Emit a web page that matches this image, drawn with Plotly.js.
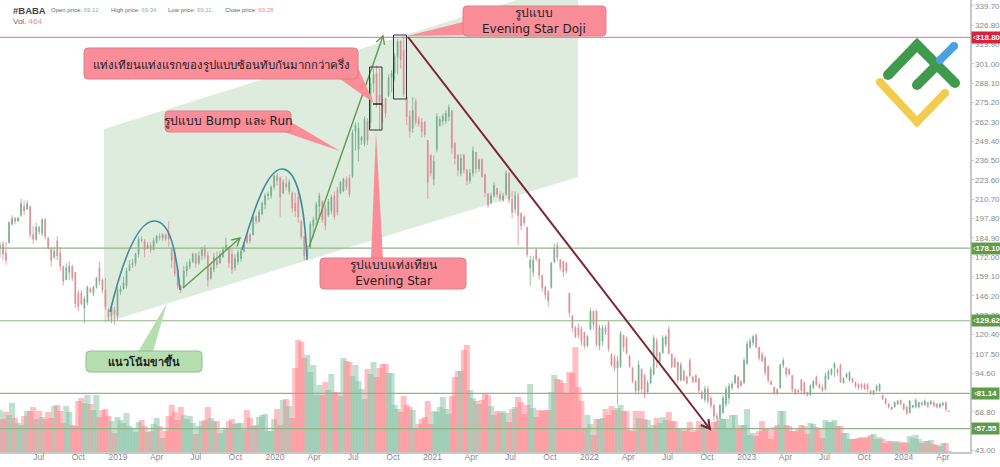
<!DOCTYPE html>
<html>
<head>
<meta charset="utf-8">
<script src="https://cdn.plot.ly/plotly-3.0.1.min.js"></script>
<style>
  html, body { margin: 0; padding: 0; background: #fff; }
  #chart { width: 1000px; height: 467px; }
</style>
</head>
<body>
<div id="chart"></div>
<script>
// weekly BABA candles, first week 2018-04-02
const firstWeek = '2018-04-02';

const openPrice = [
  178,181,175,182,194,198,196,200,206,204,
  206,187,184,192,188,197,185,178,172,183,
  175,166,157,162,166,162,148,148,138,142,
  151,148,152,165,157,150,137,133,137,133,
  149,151,153,163,167,168,174,184,183,178,
  180,177,182,186,185,187,188,178,175,164,
  153,152,163,166,169,174,168,173,178,173,
  158,164,170,168,172,177,178,174,165,169,
  171,176,187,187,187,199,196,201,207,213,
  213,219,226,225,215,221,216,215,208,212,
  196,186,173,179,193,197,206,209,205,200,
  203,213,217,215,216,224,225,226,256,244,
  250,248,263,262,288,295,280,274,278,280,
  292,295,306,316,310,279,266,258,276,264,
  262,262,250,240,224,244,260,263,263,266,
  270,248,240,228,240,230,223,228,242,231,
  237,227,214,208,213,218,214,210,214,228,
  211,204,213,201,199,192,165,162,177,171,
  160,152,149,152,169,180,170,169,168,148,
  133,125,125,124,122,113,124,136,136,113,
  116,125,129,107,105,98,99,120,118,106,
  98,89,83,97,93,82,88,94,116,102,
  108,114,124,107,104,102,90,96,92,103,
  92,93,91,82,77,84,78,73,66,65,
  68,74,78,85,88,92,89,88,101,112,
  115,120,112,107,105,99,89,85,84,85,
  100,98,97,93,84,83,90,88,82,80,
  85,92,87,85,84,91,94,98,97,100,
  88,92,90,91,88.5,87,87,87,87,83,
  80.5,83,83,80,77.5,74,72,72,74,76.5,
  74,72,68,72,72,72,75,73.5,75,74,
  75,74,72,73.5,75,69.12
];
const highPrice = [
  182,183,182,196,200,199,199,211,210,210,
  206,193,195,193,198,198,185,179,179,186,
  179,166,168,169,167,162,150,150,146,153,
  152,153,159,169,158,158,138,141,139,152,
  153,159,165,170,171,175,186,186,184,182,
  182,185,187,188,188,188,196,178,178,166,
  153,166,169,171,175,175,176,179,180,176,
  167,175,176,176,179,185,178,178,174,177,
  178,182,188,188,200,200,204,209,215,216,
  220,227,228,226,224,226,224,216,215,215,
  197,186,180,196,199,209,215,210,207,211,
  214,216,219,223,225,226,227,257,262,262,
  253,266,265,292,298,300,298,278,278,294,
  297,308,318,317,319,278,270,279,278,266,
  265,263,250,241,240,268,266,268,270,274,
  270,249,241,241,241,231,231,246,241,238,
  238,228,215,215,222,218,216,215,230,229,
  216,216,215,202,200,192,173,173,178,171,
  160,153,150,169,181,182,171,170,169,148,
  133,126,128,126,122,120,138,135,137,127,
  127,127,129,108,107,106,123,120,119,107,
  99,90,103,98,94,90,99,120,118,109,
  120,120,126,108,106,102,102,97,93,105,
  93,94,91,83,86,86,79,74,68,74,
  80,86,88,89,94,93,90,105,116,118,
  120,121,112,109,106,100,90,86,84,101,
  105,99,98,93,84,84,91,89,82,87,
  90,93,88,87,95,97,98,102,98,101,
  92,95,96,91,89,88,88,88,88,83.4,
  83.4,87,88,80,78,74.5,72.3,75.6,76.7,77.1,
  74.5,72.7,76.7,73.4,77.8,75.6,75.6,77.1,75.6,76.7,
  75.6,74.5,74.9,75.3,75.6,69.34
];
const lowPrice = [
  172,170,167,181,193,194,196,199,200,204,
  185,181,183,187,186,184,177,166,171,170,
  163,153,159,157,156,138,136,140,128,140,
  148,146,151,153,148,137,130,128,127,130,
  147,150,151,163,165,166,172,182,172,178,
  175,177,181,183,183,183,179,165,159,151,
  148,151,159,164,168,165,167,170,171,152,
  157,162,165,168,172,177,165,161,163,167,
  169,175,181,181,187,194,195,200,204,210,
  211,217,220,199,214,217,214,202,199,195,
  184,170,172,178,185,192,199,195,190,199,
  201,197,200,214,216,217,212,225,243,236,
  247,246,247,258,282,272,257,262,265,279,
  282,290,294,298,279,260,252,255,260,259,
  252,252,211,226,220,242,259,260,261,263,
  241,234,226,226,228,220,221,226,228,229,
  225,212,205,208,212,212,209,209,213,208,
  198,201,180,190,193,172,153,159,169,157,
  149,144,139,151,168,169,163,159,161,132,
  122,118,118,113,111,112,123,124,112,110,
  113,120,109,99,96,74,98,109,107,98,
  88,81,81,81,78,81,87,93,98,101,
  108,112,107,98,98,88,89,89,87,92,
  88,88,81,77,75,74,71,63,63,64,
  68,72,74,83,87,84,86,88,100,111,
  113,111,103,102,93,88,87,80,80,84,
  98,92,93,82,80,81,81,80,79,80,
  84,86,84,82,83,90,93,92,93,88,
  88,91,89,88,84.5,83.4,83.4,83.4,82.3,80,
  80,82.3,82.3,76.7,73.4,71.1,70,71.8,73.4,73.4,
  69.6,66.7,67.8,71.1,71.1,71.1,72.7,72.7,71.1,73.4,
  71.8,71.1,71.1,72.3,68.9,69.11
];
const closePrice = [
  180,174,170,195,198,196,198,208,203,208,
  187,184,192,189,197,186,178,170,176,173,
  166,156,165,166,158,141,139,141,144,152,
  149,152,158,156,150,139,132,139,134,150,
  151,155,163,167,168,174,184,183,177,180,
  177,183,186,185,187,184,184,170,161,153,
  150,163,166,169,174,168,173,177,173,157,
  165,172,167,174,177,180,168,164,171,175,
  176,180,182,183,199,196,202,208,213,214,
  219,226,223,212,222,219,222,205,203,199,
  186,173,178,194,197,207,213,197,193,209,
  212,199,202,222,224,219,214,255,260,258,
  252,264,250,288,294,275,276,272,268,292,
  295,306,316,304,281,266,256,270,262,261,
  256,254,222,228,236,266,264,266,268,272,
  245,238,230,238,230,223,228,243,231,237,
  226,215,207,213,220,214,211,213,228,210,
  202,213,200,193,195,174,170,170,171,160,
  152,147,143,168,178,172,165,162,163,135,
  125,119,120,116,113,119,136,127,114,125,
  125,122,111,100,98,103,121,112,108,99,
  89,83,100,84,80,88,97,118,106,108,
  118,119,108,99,99,90,100,90,88,93,
  89,89,83,78,84,76,73,66,65,73,
  78,84,86,87,93,85,86,103,114,116,
  119,112,105,103,95,90,87,81,81,100,
  103,94,94,84,81,82,83,81,80,86,
  89,87,85,83,93,96,97,101,95,89,
  91,94,95,89,86,85,85,84,84,81,
  83,86,87,77.5,74.5,72,70.5,75,76,74,
  71,68,76,73,76.5,75,73.5,76,72.5,75.5,
  73,72,74,74.5,70.5,69.28
];
const volume = [
  42,33,40,37,49,34,29,27,36,41,
  41,45,33,41,35,33,40,34,46,47,
  41,29,46,40,27,26,51,54,49,57,
  48,42,57,35,42,43,36,31,19,35,
  32,29,39,26,24,20,30,32,26,20,
  21,28,34,26,14,21,36,47,40,32,
  45,37,33,36,29,18,26,31,32,45,
  34,31,31,19,22,23,31,33,28,29,
  29,22,42,34,26,27,35,37,38,21,
  21,33,43,27,52,53,46,34,84,112,
  110,94,97,80,87,57,67,57,70,62,
  78,60,60,56,94,91,90,76,87,71,
  63,53,83,78,90,75,84,88,88,79,
  79,47,43,40,56,47,45,42,24,28,
  33,35,51,28,41,40,45,55,43,38,
  56,75,81,81,102,107,62,54,51,48,
  52,58,57,46,37,41,39,41,39,30,
  43,45,55,50,38,47,68,44,35,42,
  41,42,42,60,77,73,72,69,59,80,
  79,105,65,51,24,37,28,17,33,33,
  34,43,37,46,42,44,47,41,41,22,
  21,41,34,41,33,32,23,27,34,29,
  35,32,40,31,31,24,23,21,23,30,
  20,22,31,27,29,22,22,30,31,34,
  33,33,24,37,37,24,27,27,43,17,
  19,16,21,31,24,23,13,25,27,41,
  41,27,26,21,21,23,27,26,18,29,
  28,25,24,14,32,30,30,32,26,26,
  19,19,13,13,13,14,15,14,15,17,
  18,13,15,13,9,11,11,10,11,9,
  10,9,16,14,17,13,9,11,11,12,
  8,7,6,9,9,1
];

const priceTicks = [339.7,326.8,313.9,301,288.1,275.2,262.3,249.4,236.5,223.6,210.7,197.8,184.9,172,159.1,146.2,133.3,120.4,107.5,94.6,68.8,43];
const dateTicks = ['2018-04-01','2018-07-01','2018-10-01','2019-01-01','2019-04-01','2019-07-01','2019-10-01','2020-01-01','2020-04-01','2020-07-01','2020-10-01','2021-01-01','2021-04-01','2021-07-01','2021-10-01','2022-01-01','2022-04-01','2022-07-01','2022-10-01','2023-01-01','2023-04-01','2023-07-01','2023-10-01','2024-01-01','2024-04-01'];
const dateLabels = ['Apr','Jul','Oct','2019','Apr','Jul','Oct','2020','Apr','Jul','Oct','2021','Apr','Jul','Oct','2022','Apr','Jul','Oct','2023','Apr','Jul','Oct','2024','Apr'];

const resistanceLevel = 318.80;
const supportLevels = [178.10, 129.62, 81.14, 57.55];

const WEEK = 7 * 24 * 3600 * 1000;
const startMs = Date.parse(firstWeek + 'T00:00:00Z');
const weeks = closePrice.map((_, i) => new Date(startMs + i * WEEK).toISOString().slice(0, 10));

// image pixels -> paper coordinates, the plot area is 970 x 452
function px(x) { return x / 970; }
function py(y) { return 1 - y / 452; }

const GREEN_UP = '#74ad8e';
const PINK_DOWN = '#da8c96';
const TEXT_FONT = 'DejaVu Sans, Noto Sans, sans-serif';
const AXIS_FONT = 'Liberation Sans, Arial, sans-serif';

function polyPath(points, close) {
    let d = points.map((p, i) => (i == 0 ? 'M' : 'L') + px(p[0]) + ',' + py(p[1])).join(' ');
    return close ? d + ' Z' : d;
}

function roundRectPath(x0, y0, x1, y1, r) {
    const c = (x, y) => px(x) + ',' + py(y);
    return 'M' + c(x0 + r, y0) + ' L' + c(x1 - r, y0) + ' Q' + c(x1, y0) + ' ' + c(x1, y0 + r) +
        ' L' + c(x1, y1 - r) + ' Q' + c(x1, y1) + ' ' + c(x1 - r, y1) +
        ' L' + c(x0 + r, y1) + ' Q' + c(x0, y1) + ' ' + c(x0, y1 - r) +
        ' L' + c(x0, y0 + r) + ' Q' + c(x0, y0) + ' ' + c(x0 + r, y0) + ' Z';
}

function pathShape(d, color, width, fill) {
    return {
        type: 'path', xref: 'paper', yref: 'paper', path: d, layer: 'above',
        line: { color: color, width: width }, fillcolor: fill || 'rgba(0,0,0,0)'
    };
}

function arrowShapes(x0, y0, x1, y1, color, width, head) {
    const a = Math.atan2(y1 - y0, x1 - x0);
    const left = [x1 - head * Math.cos(a - 0.5), y1 - head * Math.sin(a - 0.5)];
    const right = [x1 - head * Math.cos(a + 0.5), y1 - head * Math.sin(a + 0.5)];
    return [
        pathShape(polyPath([[x0, y0], [x1, y1]]), color, width),
        pathShape(polyPath([left, [x1, y1], right]), color, width)
    ];
}

function dot(x, y, r, color) {
    return {
        type: 'circle', xref: 'paper', yref: 'paper', layer: 'above',
        x0: px(x - r), x1: px(x + r), y0: py(y + r), y1: py(y - r),
        fillcolor: color, line: { width: 0 }
    };
}

function strokeWithCaps(points, color, width) {
    const list = [pathShape(polyPath(points), color, width)];
    points.forEach(p => list.push(dot(p[0], p[1], width / 2, color)));
    return list;
}

function callout(x0, y0, x1, y1, pointer, fill, border) {
    return [
        pathShape(polyPath(pointer, true), fill, 0, fill),
        pathShape(roundRectPath(x0, y0, x1, y1, 4), border, 1, fill)
    ];
}

function label(x, y, text, size, extra) {
    return Object.assign({
        xref: 'paper', yref: 'paper', x: px(x), y: py(y), text: text, showarrow: false,
        xanchor: 'center', yanchor: 'middle', align: 'center',
        font: { family: TEXT_FONT, size: size, color: '#222' }
    }, extra || {});
}

function smallLabel(x, y, text, size, color) {
    return label(x, y, text, size, { xanchor: 'left', font: { family: AXIS_FONT, size: size, color: color } });
}

const PINK = '#fb8d99';
const PINK_EDGE = '#dc7f8a';
const LINE_GREEN = '#5f9a52';

let shapes = [];

// rising channel behind the candles
shapes.push({
    type: 'path', xref: 'paper', yref: 'paper', layer: 'below', line: { width: 0 }, fillcolor: '#deecdd',
    path: polyPath([[104, 129], [517, 0], [578, 0], [578, 177], [104, 323]], true)
});

// horizontal levels
shapes.push({ type: 'line', xref: 'paper', yref: 'y2', x0: 0, x1: 1, y0: resistanceLevel, y1: resistanceLevel, layer: 'above', line: { color: '#dd7480', width: 1 } });
supportLevels.forEach(v => {
    shapes.push({ type: 'line', xref: 'paper', yref: 'y2', x0: 0, x1: 1, y0: v, y1: v, layer: 'above', line: { color: '#8fb487', width: 1.2 } });
});

// the two bumps
const c = (x, y) => px(x) + ',' + py(y);
shapes.push(pathShape('M' + c(110, 312) + ' C' + c(125, 250) + ' ' + c(140, 220) + ' ' + c(155, 221) + ' C' + c(170, 222) + ' ' + c(176, 250) + ' ' + c(180, 290), '#3f8c9d', 1.6));
shapes.push(pathShape('M' + c(242, 250) + ' C' + c(255, 205) + ' ' + c(268, 169) + ' ' + c(282, 169) + ' C' + c(298, 169) + ' ' + c(305, 210) + ' ' + c(307, 260), '#3f8c9d', 1.6));

shapes = shapes.concat(arrowShapes(183, 288, 240, 238, LINE_GREEN, 1.4, 9));
shapes = shapes.concat(arrowShapes(309, 247, 383, 36, LINE_GREEN, 1.4, 9));
shapes = shapes.concat(arrowShapes(408, 37, 710, 429, '#7b2433', 2, 10));

// candle boxes and doji mark
shapes.push(pathShape(polyPath([[369.5, 67], [382, 67], [382, 130], [369.5, 130]], true), '#333', 1));
shapes.push(pathShape(polyPath([[393.5, 35], [406.5, 35], [406.5, 99], [393.5, 99]], true), '#333', 1));
shapes.push(pathShape(polyPath([[373, 104], [382, 104]]), '#222', 1.5));

// callouts
shapes = shapes.concat(callout(84, 48, 358, 79, [[340, 79], [358, 68], [374, 103]], PINK, PINK_EDGE));
shapes = shapes.concat(callout(165, 111, 291, 132, [[284, 132], [291, 122], [340, 151]], PINK, PINK_EDGE));
shapes = shapes.concat(callout(463, 6, 606, 36, [[463, 22], [463, 35], [407, 36]], PINK, PINK_EDGE));
shapes = shapes.concat(callout(320, 258, 466, 289, [[371, 259], [383, 259], [376, 131]], PINK, PINK_EDGE));
shapes = shapes.concat(callout(86, 351, 202, 372, [[138, 352], [153, 352], [167, 303]], '#b6deb0', '#90bd8c'));

// logo
shapes = shapes.concat(strokeWithCaps([[888, 75], [917, 45], [955, 83]], '#3f9a4d', 10));
shapes = shapes.concat(strokeWithCaps([[917, 85], [936, 66]], '#3f9a4d', 10));
shapes = shapes.concat(strokeWithCaps([[940, 60], [954, 46]], '#4aa0e2', 8));
shapes = shapes.concat(strokeWithCaps([[880, 82], [917, 122], [945, 93]], '#f3cb4d', 8));

const annotations = [
    smallLabel(11, 10, '<b>#BABA</b>', 9.5, '#444'),
    smallLabel(11, 22, 'Vol. <span style="color:#dc8f98">464</span>', 8, '#666'),
    smallLabel(49, 10, 'Open price: <span style="color:#7fb89a">69.12</span>', 6, '#666'),
    smallLabel(109, 10, 'High price: <span style="color:#7fb89a">69.34</span>', 6, '#666'),
    smallLabel(166, 10, 'Low price: <span style="color:#7fb89a">69.11</span>', 6, '#666'),
    smallLabel(223, 10, 'Close price: <span style="color:#dc8f98">69.28</span>', 6, '#666'),

    label(221, 64, 'แท่งเทียนแท่งแรกของรูปแบบซ้อนทับกันมากกว่าครึ่ง', 11.4),
    label(228, 121, 'รูปแบบ Bump และ Run', 12),
    label(534, 21, 'รูปแบบ<br>Evening Star Doji', 12),
    label(393, 273, 'รูปแบบแท่งเทียน<br>Evening Star', 12),
    label(144, 361, '<b>แนวโน้มขาขึ้น</b>', 11)
];

function priceTag(value, color) {
    return {
        xref: 'paper', yref: 'y2', x: px(970.5), y: value, xanchor: 'left', yanchor: 'middle',
        text: '‹<b>' + value.toFixed(2) + '</b>', showarrow: false, bgcolor: color, borderpad: 0,
        width: value >= 100 ? 29.5 : 27, height: 11, align: 'center',
        font: { family: AXIS_FONT, size: 8, color: '#fff' }
    };
}
annotations.push(priceTag(resistanceLevel, '#d8203f'));
supportLevels.forEach(v => annotations.push(priceTag(v, '#5e9c4c')));

const volumeBars = {
    type: 'bar',
    x: weeks,
    y: volume,
    yaxis: 'y',
    width: 14 * 24 * 3600 * 1000,
    hoverinfo: 'skip',
    marker: {
        color: closePrice.map((v, i) => v >= openPrice[i] ? '#7fc0a0' : '#ff7f88'),
        opacity: 0.5,
        line: { width: 0 }
    }
};

const candles = {
    type: 'candlestick',
    x: weeks,
    open: openPrice,
    high: highPrice,
    low: lowPrice,
    close: closePrice,
    yaxis: 'y2',
    whiskerwidth: 0,
    increasing: { line: { color: GREEN_UP, width: 0.8 }, fillcolor: GREEN_UP },
    decreasing: { line: { color: PINK_DOWN, width: 0.8 }, fillcolor: PINK_DOWN }
};

const layout = {
    width: 1000,
    height: 467,
    margin: { l: 0, r: 30, t: 0, b: 15 },
    paper_bgcolor: '#fff',
    plot_bgcolor: '#fff',
    showlegend: false,
    boxgap: 0.6,
    shapes: shapes,
    annotations: annotations,
    xaxis: {
        type: 'date',
        range: ['2018-04-02', '2024-06-03'],
        rangeslider: { visible: false },
        tickmode: 'array',
        tickvals: dateTicks,
        ticktext: dateLabels,
        ticks: '',
        ticklabelstandoff: -4,
        showgrid: false,
        zeroline: false,
        showline: true,
        linecolor: '#c8c8c8',
        linewidth: 1.5,
        tickfont: { family: AXIS_FONT, size: 8.5, color: '#8a8a8a' }
    },
    // volume scale, hidden: one unit is one pixel tall
    yaxis: { range: [0, 452], visible: false, fixedrange: true },
    yaxis2: {
        overlaying: 'y',
        side: 'right',
        range: [42, 343.7],
        tickmode: 'array',
        tickvals: priceTicks,
        tickformat: '.2f',
        ticks: 'outside',
        ticklen: 2,
        tickcolor: '#ccc',
        showgrid: false,
        zeroline: false,
        showline: true,
        linecolor: '#c8c8c8',
        linewidth: 1.5,
        tickfont: { family: AXIS_FONT, size: 8, color: '#8a8a8a' }
    }
};

Plotly.newPlot('chart', [volumeBars, candles], layout, { displayModeBar: false, staticPlot: true });
</script>
</body>
</html>
